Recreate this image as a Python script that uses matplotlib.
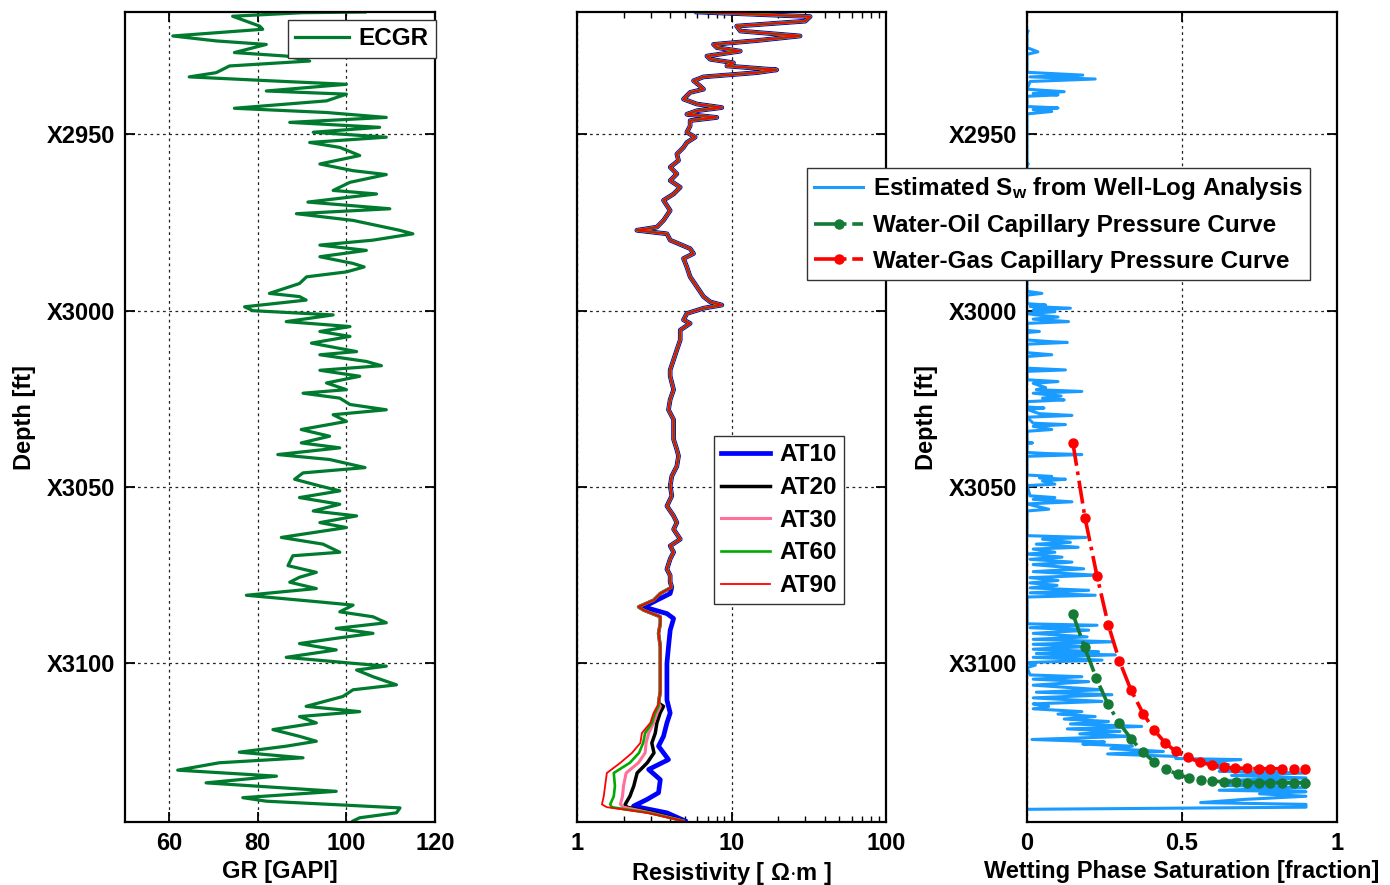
import matplotlib
matplotlib.use('Agg')
import matplotlib.pyplot as plt
from matplotlib.ticker import FixedLocator, FuncFormatter, LogLocator, NullFormatter
import numpy as np

# ---- gamma ray log ----
gr_depth = [2915.3, 2915.5, 2916.5, 2919.3, 2920.2, 2922.1, 2923.5, 2924.5, 2926.8, 2927.8,
            2929.2, 2930.6, 2932.5, 2933.7, 2934.8, 2935.8, 2937.7, 2938.6, 2940.5, 2942.6,
            2943.8, 2945.2, 2946.6, 2948.0, 2949.4, 2950.8, 2952.3, 2953.7, 2956.0, 2958.4,
            2960.3, 2961.4, 2963.6, 2965.9, 2966.9, 2969.2, 2971.1, 2972.5, 2974.4, 2977.2,
            2978.2, 2980.0, 2981.4, 2982.9, 2984.7, 2986.6, 2987.6, 2989.0, 2990.4, 2992.3,
            2993.2, 2995.1, 2996.0, 2997.0, 2998.9, 3000.0, 3001.2, 3003.1, 3004.5, 3005.9,
            3007.3, 3009.2, 3011.6, 3012.5, 3014.4, 3015.6, 3016.9, 3018.6, 3020.5, 3022.4,
            3023.4, 3024.8, 3026.6, 3028.1, 3029.5, 3031.4, 3033.7, 3035.6, 3037.5, 3038.9,
            3040.8, 3042.2, 3044.5, 3046.0, 3047.8, 3049.7, 3051.1, 3053.0, 3054.9, 3056.8,
            3058.2, 3060.1, 3061.5, 3064.3, 3066.2, 3068.5, 3069.5, 3072.3, 3074.2, 3075.6,
            3077.0, 3078.8, 3080.7, 3082.6, 3083.5, 3085.4, 3086.8, 3088.5, 3090.1, 3091.5,
            3092.9, 3094.4, 3096.2, 3098.3, 3100.0, 3100.8, 3101.9, 3103.8, 3106.1, 3107.5,
            3109.4, 3112.2, 3113.7, 3115.1, 3116.9, 3118.8, 3120.7, 3122.1, 3123.5, 3125.2,
            3126.8, 3128.2, 3130.3, 3132.0, 3133.9, 3136.3, 3138.1, 3139.1, 3141.0, 3142.4,
            3143.8, 3144.7]
gr_api = [104.2, 90.0, 74.3, 80.4, 81.1, 60.8, 70.6, 81.9, 74.7, 86.4,
          91.7, 73.6, 70.6, 64.5, 82.6, 100.0, 81.9, 100.0, 95.5, 74.7,
          95.5, 109.0, 87.2, 107.5, 92.5, 109.0, 91.7, 98.5, 103.0, 94.0,
          101.5, 109.0, 100.8, 97.0, 106.8, 91.3, 109.8, 88.7, 101.5, 112.0,
          115.0, 106.0, 94.0, 104.5, 94.0, 101.5, 104.0, 100.0, 91.0, 89.4,
          87.2, 82.6, 89.4, 90.9, 77.0, 78.9, 97.0, 86.4, 100.8, 94.0,
          100.8, 92.1, 102.3, 94.0, 104.5, 107.9, 94.0, 103.0, 95.5, 100.0,
          90.2, 98.5, 100.8, 109.0, 97.0, 100.0, 89.8, 96.2, 89.8, 98.5,
          84.5, 96.2, 104.2, 90.2, 88.3, 94.0, 98.5, 89.4, 98.5, 92.5,
          102.3, 94.0, 100.0, 85.3, 94.7, 98.5, 87.9, 86.8, 93.2, 89.4,
          87.2, 93.2, 77.4, 94.0, 101.5, 98.5, 106.0, 109.0, 97.7, 106.0,
          97.7, 89.4, 97.7, 86.4, 101.5, 109.0, 102.3, 106.0, 111.3, 101.5,
          99.2, 90.9, 103.0, 89.4, 93.2, 83.4, 89.4, 93.2, 86.4, 75.8,
          90.2, 71.3, 61.9, 84.2, 68.3, 97.7, 76.6, 81.9, 112.1, 111.3,
          103.0, 101.5]

# ---- array induction resistivity ----
# shallow section where all five curves overlay
res_depth_top = [2915.3, 2915.8, 2916.6, 2917.9, 2919.3, 2920.7, 2922.1, 2923.4, 2924.5, 2925.4,
                 2926.4, 2927.8, 2928.7, 2929.7, 2930.6, 2931.7, 2932.5, 2933.7, 2934.8, 2936.3,
                 2937.2, 2938.1, 2940.0, 2941.4, 2942.4, 2943.3, 2944.3, 2945.2, 2946.1, 2947.6,
                 2949.4, 2950.8, 2952.3, 2953.7, 2955.6, 2957.4, 2959.3, 2961.2, 2963.1, 2965.0,
                 2966.9, 2968.7, 2971.6, 2974.4, 2976.3, 2977.2, 2978.2, 2980.0, 2982.4, 2983.8,
                 2985.2, 2987.6, 2990.4, 2993.2, 2996.0, 2997.5, 2998.4, 2999.3, 3000.8, 3002.6,
                 3003.6, 3005.5, 3008.3, 3011.1, 3013.9, 3016.8, 3018.6, 3022.4, 3025.2, 3028.1,
                 3030.9, 3033.7, 3036.5, 3039.4, 3041.2, 3044.1, 3046.9, 3049.7, 3052.5, 3055.4,
                 3058.2, 3060.1, 3062.0, 3064.8, 3066.7, 3068.5, 3070.4, 3073.3, 3075.1, 3077.0,
                 3078.4]
res_top = [5.97, 11.4, 32.3, 30.0, 10.8, 11.4, 27.8, 14.6, 7.65, 8.04,
           11.4, 6.93, 7.28, 10.3, 9.33, 19.6, 14.6, 6.59, 5.68, 6.27,
           6.59, 5.40, 4.89, 5.97, 8.66, 5.97, 5.14, 8.04, 5.40, 5.40,
           5.14, 5.82, 5.14, 4.89, 4.43, 4.54, 4.01, 4.43, 4.01, 4.66,
           4.22, 3.63, 4.01, 3.63, 3.29, 2.44, 3.82, 4.01, 5.40, 5.68,
           4.89, 5.14, 5.40, 5.97, 6.59, 7.28, 8.66, 6.59, 5.14, 4.89,
           5.40, 4.66, 4.66, 4.43, 4.22, 4.01, 4.01, 4.22, 4.01, 3.91,
           4.22, 4.22, 4.22, 4.43, 4.54, 4.43, 4.11, 4.01, 4.11, 3.82,
           4.22, 4.43, 4.22, 4.66, 4.01, 4.22, 4.01, 3.82, 4.01, 4.01,
           4.11]
# middle section shared by AT20..AT90
res_depth_mid = [3080.2, 3082.1, 3084.0, 3084.9, 3086.8, 3088.7, 3091.5, 3095.3, 3100.0, 3104.7,
                 3108.0, 3111.3]
res_mid = [3.46, 3.13, 2.50, 2.70, 3.46, 3.46, 3.37, 3.46, 3.46, 3.46, 3.46, 3.37]
# AT10 below the shared section
at10_depth_low = [3080.2, 3082.1, 3084.0, 3085.9, 3087.3, 3090.6, 3095.3, 3100.0, 3104.7, 3110.4,
                  3114.1, 3116.9, 3120.7, 3123.5, 3127.3, 3130.1, 3133.0, 3136.7, 3138.6, 3140.5,
                  3142.4, 3144.7]
at10_low = [4.01, 3.29, 2.70, 3.82, 4.22, 4.01, 3.91, 3.82, 3.82, 3.82,
            4.01, 3.82, 3.63, 3.37, 3.91, 2.91, 3.46, 3.37, 2.84, 2.32,
            3.82, 5.01]
# deepest section where the curves separate
res_depth_low = [3112.2, 3114.1, 3116.9, 3119.8, 3122.6, 3125.4, 3128.2, 3131.1, 3134.8, 3137.7,
                 3140.0, 3140.8, 3142.4, 3144.7]
at20_low = [3.63, 3.45, 3.29, 3.21, 3.05, 3.15, 2.85, 2.45, 2.33, 2.20, 2.05, 2.10, 3.13, 4.89]
at30_low = [3.46, 3.30, 3.13, 2.91, 2.80, 2.76, 2.50, 2.08, 2.00, 1.97, 1.91, 2.00, 2.98, 4.89]
at60_low = [3.37, 3.20, 3.05, 2.76, 2.68, 2.52, 2.20, 1.73, 1.76, 1.73, 1.64, 1.68, 2.91, 4.89]
at90_low = [3.30, 3.13, 2.98, 2.63, 2.57, 2.27, 1.91, 1.56, 1.52, 1.49, 1.45, 1.56, 2.84, 4.89]

# ---- water saturation from log analysis ----
sw_depth = [2920.5, 2920.7, 2920.9, 2925.4, 2926.6, 2927.3, 2932.4, 2933.2, 2933.7, 2934.3,
            2935.0, 2937.2, 2937.9, 2938.4, 2938.8, 2939.2, 2942.1, 2942.5, 2943.0, 2943.5,
            2944.2, 2958.2, 2958.4, 2958.6, 2994.5, 2995.1, 2995.6, 2998.0, 2998.4, 2998.8,
            2999.3, 2999.8, 3000.3, 3000.8, 3001.2, 3001.8, 3002.4, 3003.1, 3003.6, 3005.6,
            3005.9, 3006.2, 3008.3, 3008.8, 3009.0, 3009.5, 3011.9, 3012.5, 3013.0, 3016.3,
            3016.8, 3017.2, 3019.6, 3020.1, 3020.6, 3021.8, 3022.4, 3022.9, 3023.4, 3024.2,
            3024.8, 3025.3, 3025.8, 3027.3, 3027.6, 3028.0, 3029.2, 3029.7, 3030.2, 3031.9,
            3032.3, 3032.8, 3033.7, 3034.2, 3037.3, 3037.5, 3037.7, 3040.2, 3040.5, 3040.8,
            3041.3, 3046.6, 3047.0, 3047.4, 3047.8, 3048.3, 3049.2, 3049.6, 3052.5, 3053.0,
            3053.5, 3054.2, 3054.8, 3056.3, 3056.8, 3063.8, 3064.3, 3064.8, 3065.7, 3066.2,
            3067.1, 3067.6, 3068.5, 3069.0, 3069.9, 3070.5, 3071.3, 3072.0, 3073.2, 3074.0,
            3075.0, 3075.7, 3076.5, 3077.2, 3077.9, 3078.6, 3079.3, 3080.0, 3080.7, 3081.2,
            3088.8, 3089.2, 3089.9, 3090.6, 3091.5, 3092.5, 3093.2, 3093.9, 3094.6, 3095.3,
            3096.0, 3096.7, 3097.2, 3097.6, 3098.3, 3099.1, 3099.8, 3100.5, 3101.2, 3103.3,
            3103.8, 3104.5, 3105.2, 3106.2, 3107.5, 3108.2, 3108.9, 3109.8, 3110.8, 3111.5,
            3112.2, 3112.9, 3113.7, 3114.4, 3115.1, 3115.8, 3116.5, 3117.2, 3117.9, 3118.6,
            3119.3, 3120.0, 3120.7, 3121.6, 3122.3, 3122.9, 3123.5, 3124.2, 3125.0, 3125.7,
            3126.4, 3127.0, 3127.3, 3128.0, 3128.7, 3129.4, 3130.1, 3130.6, 3131.1, 3131.8,
            3132.5, 3133.2, 3133.9, 3134.6, 3135.3, 3136.0, 3136.4, 3137.0, 3137.7, 3138.6,
            3139.5, 3140.0, 3140.8, 3141.4]
sw_frac = [0.0, 0.004, 0.0, 0.0, 0.035, 0.0, 0.0, 0.18, 0.01, 0.22,
           0.01, 0.0, 0.12, 0.02, 0.10, 0.0, 0.0, 0.10, 0.02, 0.08,
           0.0, 0.0, 0.004, 0.0, 0.0, 0.048, 0.0, 0.0, 0.06, 0.01,
           0.14, 0.02, 0.09, 0.0, 0.03, 0.10, 0.02, 0.134, 0.0, 0.0,
           0.04, 0.0, 0.0, 0.08, 0.13, 0.0, 0.0, 0.08, 0.0, 0.0,
           0.124, 0.0, 0.0, 0.10, 0.02, 0.06, 0.03, 0.177, 0.02, 0.11,
           0.05, 0.12, 0.0, 0.0, 0.055, 0.0, 0.04, 0.145, 0.0, 0.02,
           0.124, 0.02, 0.08, 0.0, 0.0, 0.018, 0.0, 0.0, 0.06, 0.177,
           0.0, 0.0, 0.08, 0.04, 0.124, 0.05, 0.09, 0.0, 0.01, 0.09,
           0.02, 0.145, 0.0, 0.07, 0.0, 0.0, 0.19, 0.05, 0.14, 0.03,
           0.165, 0.02, 0.09, 0.0, 0.113, 0.01, 0.145, 0.02, 0.183, 0.02,
           0.22, 0.01, 0.10, 0.01, 0.097, 0.01, 0.199, 0.01, 0.22, 0.0,
           0.0, 0.226, 0.01, 0.199, 0.02, 0.194, 0.02, 0.274, 0.02, 0.183,
           0.02, 0.231, 0.03, 0.285, 0.02, 0.242, 0.0, 0.027, 0.0, 0.01,
           0.177, 0.02, 0.199, 0.02, 0.242, 0.03, 0.274, 0.02, 0.242, 0.02,
           0.07, 0.02, 0.177, 0.10, 0.22, 0.12, 0.263, 0.14, 0.37, 0.13,
           0.30, 0.17, 0.33, 0.016, 0.25, 0.18, 0.34, 0.27, 0.44, 0.26,
           0.48, 0.48, 0.69, 0.56, 0.65, 0.60, 0.67, 0.62, 0.90, 0.66,
           0.90, 0.65, 0.90, 0.63, 0.90, 0.62, 0.90, 0.75, 0.90, 0.70,
           0.56, 0.90, 0.90, 0.0]

# ---- capillary pressure derived saturation ----
wg_sw = [0.148, 0.187, 0.226, 0.262, 0.298, 0.335, 0.375, 0.41, 0.446, 0.48, 0.52,
         0.558, 0.596, 0.634, 0.672, 0.71, 0.747, 0.785, 0.822, 0.86, 0.898]
wg_depth = [3037.5, 3058.7, 3075.3, 3089.0, 3099.3, 3107.5, 3114.3, 3118.9, 3122.6, 3125.0, 3126.7,
            3128.1, 3128.8, 3129.4, 3129.7, 3129.8, 3129.9, 3129.9, 3129.9, 3129.9, 3129.9]
wo_sw = [0.148, 0.186, 0.224, 0.261, 0.298, 0.336, 0.374, 0.411, 0.448, 0.486, 0.523,
         0.56, 0.598, 0.636, 0.673, 0.71, 0.748, 0.785, 0.823, 0.86, 0.898]
wo_depth = [3086.0, 3095.5, 3104.3, 3111.6, 3117.0, 3121.4, 3125.2, 3128.0, 3130.0, 3131.5, 3132.5,
            3133.1, 3133.4, 3133.6, 3133.7, 3133.8, 3133.8, 3133.8, 3133.8, 3133.8, 3133.8]

depth_ticks = [2950, 3000, 3050, 3100]
depth_lim = (3145.0, 2915.3)

plt.rcParams['font.family'] = ['Liberation Sans', 'DejaVu Sans']
plt.rcParams['font.weight'] = 'bold'
plt.rcParams['font.size'] = 17
plt.rcParams['mathtext.fontset'] = 'custom'
plt.rcParams['mathtext.rm'] = 'Liberation Sans:bold'
plt.rcParams['mathtext.it'] = 'Liberation Sans:bold'
plt.rcParams['mathtext.bf'] = 'Liberation Sans:bold'

fig = plt.figure(figsize=(13.9, 8.85), dpi=100)
W, H = 1390.0, 885.0
ax_bottom, ax_height = 1 - 822 / H, (822 - 12) / H
ax1 = fig.add_axes([125 / W, ax_bottom, 310 / W, ax_height])
ax2 = fig.add_axes([577 / W, ax_bottom, 309 / W, ax_height])
ax3 = fig.add_axes([1027 / W, ax_bottom, 310 / W, ax_height])

grid_kw = dict(color='#222222', linestyle=(0, (2.2, 2.8)), linewidth=0.9)
depth_fmt = FuncFormatter(lambda v, p: 'X%d' % v)


def style_track(ax, show_depth):
    ax.set_ylim(*depth_lim)
    ax.yaxis.set_major_locator(FixedLocator(depth_ticks))
    if show_depth:
        ax.yaxis.set_major_formatter(depth_fmt)
        ax.set_ylabel('Depth [ft]', fontsize=17, fontweight='bold', labelpad=8)
    else:
        ax.set_yticklabels([])
    ax.tick_params(which='major', direction='in', top=True, right=True,
                   length=7, width=1.3, labelsize=17, pad=7)
    ax.tick_params(which='minor', direction='in', top=True, right=True,
                   length=4, width=1.0)
    for s in ax.spines.values():
        s.set_linewidth(1.6)
    ax.grid(True, which='major', **grid_kw)


def style_legend(leg):
    fr = leg.get_frame()
    fr.set_edgecolor('#333333')
    fr.set_linewidth(1.0)
    fr.set_alpha(1.0)


# track 1: gamma ray
ax1.plot(gr_api, gr_depth, color='#007a2e', lw=2.3, label='ECGR')
ax1.set_xlim(50, 120)
ax1.xaxis.set_major_locator(FixedLocator([60, 80, 100, 120]))
ax1.set_xlabel('GR [GAPI]', fontsize=17, fontweight='bold', labelpad=4)
style_track(ax1, True)
leg1 = ax1.legend(loc='upper left', bbox_to_anchor=(288 / W, 1 - 20 / H),
                  bbox_transform=fig.transFigure, borderaxespad=0, fancybox=False,
                  handlelength=2.2, handletextpad=0.4, borderpad=0.3, fontsize=17.5)
style_legend(leg1)

# track 2: resistivity
at10_depth = res_depth_top + at10_depth_low
at10 = res_top + at10_low
deep_depth = res_depth_top + res_depth_mid + res_depth_low
ax2.plot(at10, at10_depth, color='#0000ff', lw=3.4, label='AT10')
ax2.plot(res_top + res_mid + at20_low, deep_depth, color='black', lw=2.5, label='AT20')
ax2.plot(res_top + res_mid + at30_low, deep_depth, color='#ff6f9a', lw=2.2, label='AT30')
ax2.plot(res_top + res_mid + at60_low, deep_depth, color='#00aa00', lw=1.9, label='AT60')
ax2.plot(res_top + res_mid + at90_low, deep_depth, color='#ff0000', lw=1.3, label='AT90')
ax2.set_xscale('log')
ax2.set_xlim(1, 100)
ax2.xaxis.set_major_locator(FixedLocator([1, 10, 100]))
ax2.xaxis.set_major_formatter(FuncFormatter(lambda v, p: '%g' % v))
ax2.xaxis.set_minor_locator(LogLocator(base=10, subs=np.arange(2, 10)))
ax2.xaxis.set_minor_formatter(NullFormatter())
ax2.set_xlabel(r'Resistivity [ $\Omega$$\cdot$m ]', fontsize=17, fontweight='bold', labelpad=4)
style_track(ax2, False)
ax2.tick_params(axis='y', which='minor', left=False, right=False)
leg2 = ax2.legend(loc='upper left', bbox_to_anchor=(714 / W, 1 - 436 / H),
                  bbox_transform=fig.transFigure, borderaxespad=0, fancybox=False,
                  handlelength=2.0, handletextpad=0.4, borderpad=0.3,
                  labelspacing=0.4, fontsize=17.5)
style_legend(leg2)

# track 3: saturation
ax3.plot(sw_frac, sw_depth, color='#1a9bff', lw=2.2,
         label=r'Estimated S$_{\mathbf{w}}$ from Well-Log Analysis')
ax3.plot(wo_sw, wo_depth, color='#157a36', lw=2.6, ls='-.', marker='o', ms=6.5,
         label='Water-Oil Capillary Pressure Curve')
ax3.plot(wg_sw, wg_depth, color='#ff0000', lw=2.6, ls='-.', marker='o', ms=6.5,
         label='Water-Gas Capillary Pressure Curve')
ax3.set_xlim(0, 1)
ax3.xaxis.set_major_locator(FixedLocator([0, 0.5, 1]))
ax3.xaxis.set_major_formatter(FuncFormatter(lambda v, p: '%g' % v))
ax3.set_xlabel('Wetting Phase Saturation [fraction]', fontsize=17, fontweight='bold', labelpad=4)
style_track(ax3, True)
leg3 = ax3.legend(loc='upper right', bbox_to_anchor=(1310 / W, 1 - 168 / H),
                  bbox_transform=fig.transFigure, borderaxespad=0, fancybox=False,
                  handlelength=2.0, handletextpad=0.4, borderpad=0.3,
                  labelspacing=0.5, fontsize=17.5, numpoints=1)
style_legend(leg3)

fig.savefig('out.png', dpi=100)
